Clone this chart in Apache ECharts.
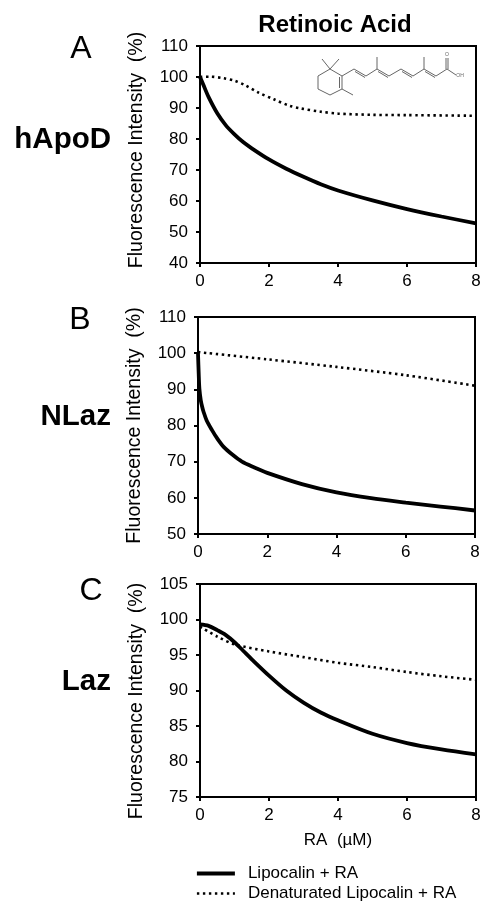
<!DOCTYPE html>
<html>
<head>
<meta charset="utf-8">
<style>
  html, body { margin: 0; padding: 0; background: #fff; }
  #chart { width: 481px; height: 902px; }
</style>
<script src="https://cdn.jsdelivr.net/npm/echarts@6/dist/echarts.min.js"></script>
</head>
<body>
<div id="chart"></div>
<script>
const xTicks = [0, 2, 4, 6, 8];
const seriesNames = ['Lipocalin + RA', 'Denaturated Lipocalin + RA'];

// panel A, hApoD
const apodSolidX = [0, 0.1, 0.25, 0.5, 0.75, 1, 1.25, 1.5, 2, 2.5, 3, 3.5, 4, 5, 6, 7, 8];
const apodSolidY = [100, 97.4, 93.5, 88.3, 84.4, 81.5, 79, 77, 73.4, 70.4, 67.8, 65.4, 63.4, 60.2, 57.4, 55, 52.8];
const apodDotX = [0, 0.3, 0.68, 1, 1.3, 1.69, 2.14, 2.6, 2.9, 3.5, 4, 5, 6, 8];
const apodDotY = [100.1, 100.1, 99.6, 98.8, 97.4, 95, 92.8, 90.7, 89.9, 88.8, 88.2, 87.8, 87.7, 87.5];

// panel B, NLaz
const nlazSolidX = [0, 0.02, 0.04, 0.08, 0.12, 0.16, 0.25, 0.4, 0.55, 0.74, 1, 1.27, 1.6, 2, 3, 4, 5, 6, 7, 8];
const nlazSolidY = [100, 94.4, 90.2, 87, 85.2, 83.8, 81.4, 78.8, 76.5, 74.1, 71.9, 70, 68.5, 66.9, 63.8, 61.5, 59.9, 58.7, 57.6, 56.5];
const nlazDotX = [0, 2, 4, 6, 8];
const nlazDotY = [100.3, 98.3, 96.2, 93.9, 91];

// panel C, Laz
const lazSolidX = [0, 0.25, 0.5, 0.75, 1, 1.25, 1.5, 2, 2.5, 3, 3.5, 4, 5, 6, 7, 8];
const lazSolidY = [99.3, 99.1, 98.5, 97.8, 96.8, 95.6, 94.4, 92.1, 90, 88.3, 86.9, 85.8, 83.9, 82.6, 81.7, 81];
const lazDotX = [0, 0.5, 1, 2, 3, 4, 5, 6, 7, 8];
const lazDotY = [99, 97.6, 96.5, 95.5, 94.7, 93.9, 93.3, 92.6, 92, 91.5];

const FONT = '"Liberation Sans", Arial, sans-serif';
const SOLID_LINE = { color: '#000', width: 3.8 };
const DOT_LINE = { color: '#000', width: 2.6, type: [2.4, 3.6] };

function zip(xs, ys) {
  return xs.map((x, i) => [x, ys[i]]);
}

const panels = [
  { left: 200, right: 5, top: 46, height: 217, min: 40, max: 110, step: 10, namePad: [0, 0, 0, 9], solid: zip(apodSolidX, apodSolidY), dot: zip(apodDotX, apodDotY) },
  { left: 198, right: 6, top: 317, height: 217, min: 50, max: 110, step: 10, namePad: 0, solid: zip(nlazSolidX, nlazSolidY), dot: zip(nlazDotX, nlazDotY) },
  { left: 200, right: 5, top: 584, height: 213, min: 75, max: 105, step: 5, namePad: [0, 21, 0, 0], solid: zip(lazSolidX, lazSolidY), dot: zip(lazDotX, lazDotY), xName: 'RA  (µM)' }
];

const grids = [], xAxes = [], yAxes = [], series = [];
panels.forEach((p, i) => {
  grids.push({ left: p.left, right: p.right, top: p.top, height: p.height, show: true, borderColor: '#000', borderWidth: 2, outerBoundsMode: 'none' });
  xAxes.push({
    type: 'value', gridIndex: i, min: 0, max: 8, interval: xTicks[1] - xTicks[0],
    splitLine: { show: false },
    axisLine: { onZero: false, lineStyle: { color: '#000', width: 2 } },
    axisTick: { length: 4, lineStyle: { color: '#000', width: 2 } },
    axisLabel: { color: '#000', fontFamily: FONT, fontSize: 17, margin: 10, hideOverlap: false, showMinLabel: true, showMaxLabel: true },
    name: p.xName || '', nameLocation: 'middle', nameGap: 35,
    nameTextStyle: { color: '#000', fontFamily: FONT, fontSize: 17 }
  });
  yAxes.push({
    type: 'value', gridIndex: i, min: p.min, max: p.max, interval: p.step,
    splitLine: { show: false },
    axisLine: { lineStyle: { color: '#000', width: 2 } },
    axisTick: { length: 4, lineStyle: { color: '#000', width: 2 } },
    axisLabel: { color: '#000', fontFamily: FONT, fontSize: 17, margin: 12, showMinLabel: true, showMaxLabel: true },
    name: 'Fluorescence Intensity  (%)', nameLocation: 'middle', nameRotate: 90, nameGap: 53,
    nameTextStyle: { color: '#000', fontFamily: FONT, fontSize: 19.5, padding: p.namePad }
  });
  series.push({
    name: seriesNames[0], type: 'line', xAxisIndex: i, yAxisIndex: i, data: p.solid,
    showSymbol: false, symbol: 'none', smooth: 0.3, clip: false, z: 3,
    lineStyle: SOLID_LINE, itemStyle: { color: '#000' }
  });
  series.push({
    name: seriesNames[1], type: 'line', xAxisIndex: i, yAxisIndex: i, data: p.dot,
    showSymbol: false, symbol: 'none', smooth: 0.3, clip: false, z: 2,
    lineStyle: DOT_LINE, itemStyle: { color: '#000' }
  });
});

function label(text, x, y, size, weight, align) {
  return {
    type: 'text', x: x, y: y,
    style: { text: text, fill: '#000', font: (weight || 'normal') + ' ' + size + 'px ' + FONT, align: align || 'center', verticalAlign: 'middle' }
  };
}

function bond(points, width) {
  return {
    type: 'polyline', shape: { points: points }, z: 1,
    style: { stroke: '#666', lineWidth: width || 1, fill: null }
  };
}

// retinoic acid structure in the top panel
const molecule = [
  bond([[318, 76], [330, 69], [342, 76], [342, 89], [330, 95], [318, 89], [318, 76]]),
  bond([[339.5, 77], [339.5, 88]]),
  bond([[322, 59], [330, 69], [339, 59]]),
  bond([[342, 89], [353, 95]]),
  bond([[342, 76], [354, 69], [366, 76], [377, 69], [389, 76], [401, 69], [413, 76], [424, 69], [436, 76], [447, 69], [456, 75]]),
  bond([[355, 71.5], [365, 77.5]]),
  bond([[378, 71.5], [388, 77.5]]),
  bond([[402, 71.5], [412, 77.5]]),
  bond([[425, 71.5], [435, 77.5]]),
  bond([[377, 69], [377, 57]]),
  bond([[424, 69], [424, 57]]),
  bond([[446, 69], [446, 58]]),
  bond([[448, 69], [448, 58]]),
  { type: 'text', x: 447, y: 55, style: { text: 'O', fill: '#666', font: '5px ' + FONT, align: 'center', verticalAlign: 'middle' } },
  { type: 'text', x: 460, y: 76, style: { text: 'OH', fill: '#666', font: '5px ' + FONT, align: 'center', verticalAlign: 'middle' } }
];

const chart = echarts.init(document.getElementById('chart'), null, { renderer: 'canvas' });
chart.setOption({
  animation: false,
  backgroundColor: '#fff',
  grid: grids,
  xAxis: xAxes,
  yAxis: yAxes,
  series: series,
  legend: {
    left: 195, top: 865, padding: 0, orient: 'vertical', itemWidth: 38, itemHeight: 16, itemGap: 3,
    selectedMode: false,
    data: [
      { name: seriesNames[0], lineStyle: SOLID_LINE },
      { name: seriesNames[1], lineStyle: DOT_LINE }
    ],
    itemStyle: { opacity: 0 },
    textStyle: { color: '#000', fontFamily: FONT, fontSize: 17, padding: [0, 0, 0, 8] }
  },
  graphic: [
    label('Retinoic Acid', 335, 25, 24, 'bold'),
    label('A', 81, 49, 32),
    label('B', 80, 320, 32),
    label('C', 91, 591, 32),
    label('hApoD', 111, 140, 29.5, 'bold', 'right'),
    label('NLaz', 111, 417, 29.5, 'bold', 'right'),
    label('Laz', 111, 682, 29.5, 'bold', 'right')
  ].concat(molecule)
});
</script>
</body>
</html>
